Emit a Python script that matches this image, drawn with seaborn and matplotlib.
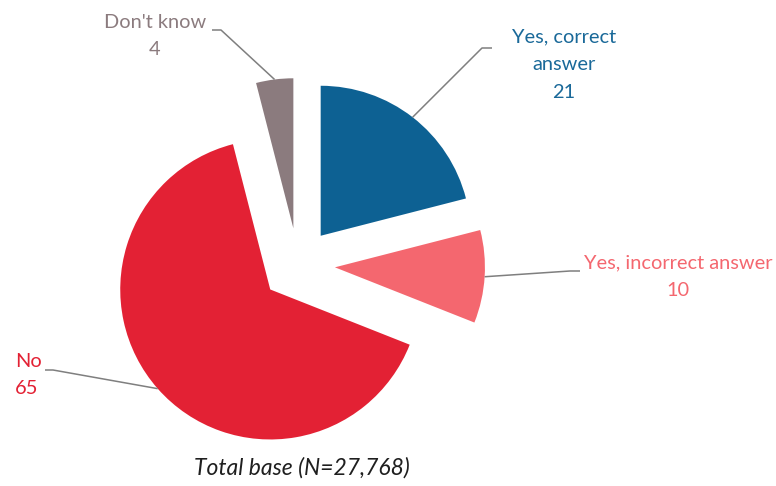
import math

import matplotlib
matplotlib.use("Agg")
import matplotlib.pyplot as plt
import seaborn as sns

# Survey answers (percent)
categories = ["Yes, correct\nanswer", "Yes, incorrect answer", "No", "Don't know"]
shares = [21, 10, 65, 4]
slice_colors = ["#0D6193", "#F4676F", "#E32134", "#8B7B7E"]
label_colors = ["#1A6999", "#F4676F", "#E32134", "#8B7B7E"]
footnote = "Total base (N=27,768)"

sns.set_theme(style="white")
plt.rcParams["font.family"] = ["Lato", "DejaVu Sans"]

W, H = 776, 486
fig = plt.figure(figsize=(W / 100, H / 100), dpi=100)
ax = fig.add_axes([0, 0, 1, 1])

palette = sns.color_palette(slice_colors)
wedges, _ = ax.pie(
    shares,
    colors=palette,
    startangle=90,
    counterclock=False,
    radius=150,
    center=(298, H - 265),
    explode=[37] * len(shares),
    wedgeprops=dict(linewidth=0),
)
ax.set_xlim(0, W)
ax.set_ylim(0, H)
ax.set_aspect("equal")
ax.axis("off")

# label layout: (elbow point, line end, text anchor, alignment), image-style y
layout = [
    ((482, 48), (492, 48), (564, 65), "center"),
    ((570, 271), (580, 271), (678, 277), "center"),
    ((53, 370), (45, 370), (15, 375), "left"),
    ((221, 30), (212, 30), (155, 36), "center"),
]

line_color = "#7F7F7F"
for wedge, name, value, tc, (elbow, end, anchor, ha) in zip(
    wedges, categories, shares, label_colors, layout
):
    mid = math.radians((wedge.theta1 + wedge.theta2) / 2)
    cx, cy = wedge.center
    sx = cx + wedge.r * math.cos(mid)
    sy = cy + wedge.r * math.sin(mid)
    ax.plot(
        [sx, elbow[0], end[0]],
        [sy, H - elbow[1], H - end[1]],
        color=line_color,
        lw=1.1,
        solid_capstyle="butt",
        zorder=1,
    )
    ax.text(
        anchor[0],
        H - anchor[1],
        f"{name}\n{value}",
        color=tc,
        fontsize=14.4,
        ha=ha,
        va="center",
        multialignment=ha,
        linespacing=1.78,
    )

ax.text(302, H - 468, footnote, fontsize=16.5, style="italic",
        color="#1F1F1F", ha="center", va="center")

fig.savefig("out.png", dpi=100)
